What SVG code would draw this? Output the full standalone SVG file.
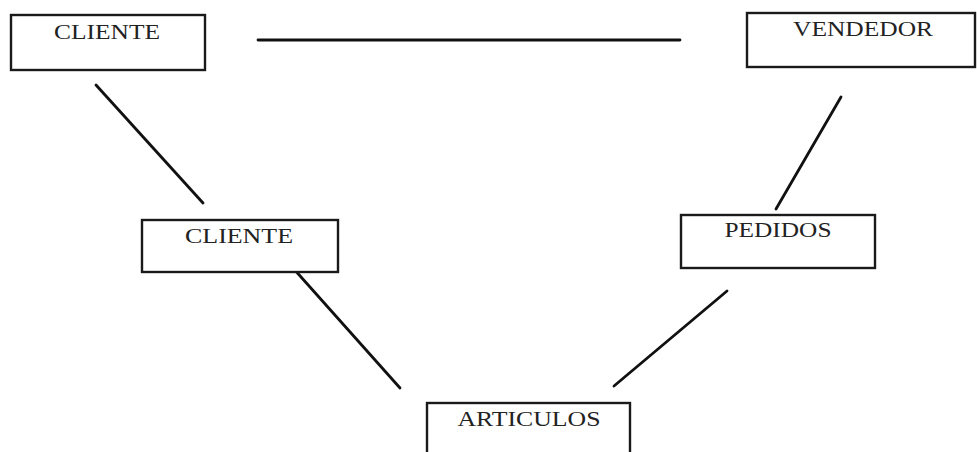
<svg xmlns="http://www.w3.org/2000/svg" width="977" height="452" viewBox="0 0 977 452">
<style>
.box{fill:#fff;stroke:#1a1a1a;stroke-width:2.4}
.lbl{font-family:"Liberation Serif","DejaVu Serif",serif;font-size:21px;fill:#222;text-anchor:middle}
.conn line{stroke:#111;stroke-width:2.8;stroke-linecap:round}
</style>
<rect width="977" height="452" fill="#fff"/>
<g class="conn" id="connectors">
<line x1="258" y1="40" x2="680" y2="40"/>
<line x1="96" y1="85" x2="203" y2="203"/>
<line x1="841" y1="97" x2="776" y2="209"/>
<line x1="293" y1="268" x2="400" y2="388"/>
<line x1="727" y1="291" x2="614" y2="386"/>
</g>
<g id="cliente1"><rect class="box" x="11" y="15" width="194" height="55"/><text class="lbl" x="107" y="39" textLength="106" lengthAdjust="spacingAndGlyphs">CLIENTE</text></g>
<g id="vendedor"><rect class="box" x="747" y="13" width="228" height="54"/><text class="lbl" x="863" y="36" textLength="140" lengthAdjust="spacingAndGlyphs">VENDEDOR</text></g>
<g id="cliente2"><rect class="box" x="142" y="220" width="196" height="52"/><text class="lbl" x="239" y="243" textLength="108" lengthAdjust="spacingAndGlyphs">CLIENTE</text></g>
<g id="pedidos"><rect class="box" x="681" y="215" width="194" height="53"/><text class="lbl" x="778" y="237" textLength="107" lengthAdjust="spacingAndGlyphs">PEDIDOS</text></g>
<g id="articulos"><rect class="box" x="427" y="403" width="203" height="60"/><text class="lbl" x="529" y="426" textLength="143" lengthAdjust="spacingAndGlyphs">ARTICULOS</text></g>
</svg>
